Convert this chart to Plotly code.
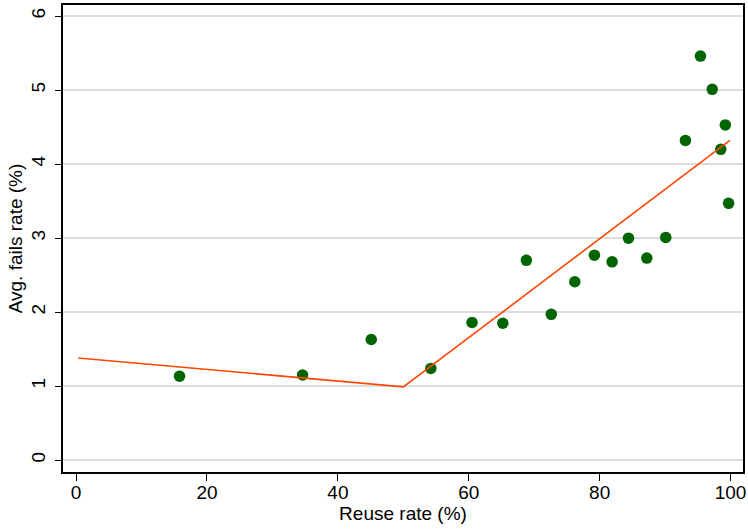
import plotly.graph_objects as go

# scatter: reuse rate vs average fails rate
reuse_rate = [15.8, 34.6, 45.1, 54.2, 60.5, 65.2, 68.8, 72.6, 76.2, 79.2,
              81.9, 84.4, 87.2, 90.1, 93.1, 95.4, 97.2, 98.5, 99.2, 99.7]
fails_rate = [1.135, 1.15, 1.63, 1.24, 1.86, 1.85, 2.70, 1.97, 2.41, 2.77,
              2.68, 3.00, 2.73, 3.01, 4.32, 5.46, 5.01, 4.20, 4.53, 3.47]

# piecewise linear fit (kink at 50)
fit_x = [0.3, 50.0, 99.9]
fit_y = [1.38, 0.99, 4.32]

FONT = "Liberation Sans, Arial, sans-serif"

fig = go.Figure()
fig.add_scatter(x=reuse_rate, y=fails_rate, mode="markers",
                marker=dict(color="#006400", size=11.5, line_width=0),
                showlegend=False)
fig.add_scatter(x=fit_x, y=fit_y, mode="lines",
                line=dict(color="#FF4500", width=1.6),
                showlegend=False)

axis_common = dict(
    showline=True, linecolor="black", linewidth=1.5, mirror=True,
    ticks="outside", tickcolor="black", tickwidth=1,
    zeroline=False, automargin=False,
    tickfont=dict(family=FONT, size=19, color="black"),
)

fig.update_xaxes(
    range=[-2.0, 101.9], tickvals=[0, 20, 40, 60, 80, 100],
    showgrid=False, ticklen=7, ticklabelstandoff=-5,
    title=dict(text="Reuse rate (%)", font=dict(family=FONT, size=19, color="black"),
               standoff=0),
    **axis_common,
)
fig.update_yaxes(
    range=[-0.16, 6.15], tickvals=[0, 1, 2, 3, 4, 5, 6], tickangle=-90,
    showgrid=True, gridcolor="#dcdcdc", gridwidth=1.5, ticklen=6,
    ticklabelstandoff=3,
    title=dict(text="Avg. fails rate (%)", font=dict(family=FONT, size=19, color="black"),
               standoff=0),
    **axis_common,
)

fig.update_layout(
    width=748, height=529,
    margin=dict(l=63, r=5, t=5, b=57),
    plot_bgcolor="white", paper_bgcolor="white",
    font=dict(family=FONT, color="black"),
)

# drop the browser's default body margin so the figure sits at 0,0
fig.write_html("out.html", config={"displayModeBar": False},
               post_script="document.body.style.margin='0';")
